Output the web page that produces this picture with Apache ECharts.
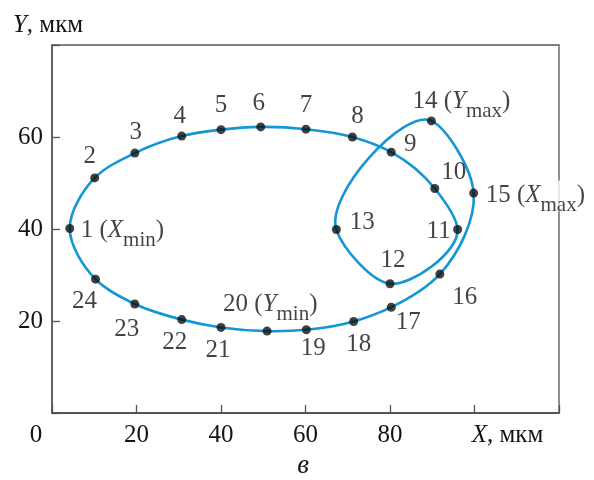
<!DOCTYPE html>
<html>
<head>
<meta charset="utf-8">
<script src="https://cdn.jsdelivr.net/npm/echarts@6/dist/echarts.min.js"></script>
<style>
  html, body { margin: 0; padding: 0; background: #fff; }
  #chart { width: 594px; height: 480px; }
</style>
</head>
<body>
<div id="chart"></div>
<script>
// Trajectory points 1..24 (X, Y in мкм), in path order
const pointIds = [1, 2, 3, 4, 5, 6, 7, 8, 9, 10, 11, 12, 13, 14, 15, 16, 17, 18, 19, 20, 21, 22, 23, 24];
const xs = [4.2, 10.1, 19.6, 30.7, 40.0, 49.4, 60.1, 71.1, 80.3, 90.6, 96.0, 80.0,
            67.3, 89.8, 99.8, 91.8, 80.3, 71.4, 60.2, 50.9, 40.0, 30.7, 19.6, 10.3];
const ys = [40.1, 51.1, 56.5, 60.2, 61.6, 62.2, 61.7, 60.0, 56.7, 48.8, 39.9, 28.1,
            39.9, 63.5, 47.8, 30.2, 23.0, 19.9, 18.1, 17.8, 18.6, 20.3, 23.7, 29.1];
// Extreme points: [variable, subscript]
const extremes = { 1: ['X', 'min'], 14: ['Y', 'max'], 15: ['X', 'max'], 20: ['Y', 'min'] };

const xTickLabels = [0, 20, 40, 60, 80];
const yTickLabels = [20, 40, 60];
const xAxisTitle = ['X', ', мкм'];
const yAxisTitle = ['Y', ', мкм'];
const caption = 'в';

// Label placement around each dot: [align, dx, dy]
const labelPlace = {
  1: ['left', 11, 0], 2: ['center', -5, -21], 3: ['center', 1, -20], 4: ['center', -2, -19],
  5: ['center', 0, -23], 6: ['center', -2, -22], 7: ['center', 0, -23], 8: ['center', 5, -20],
  9: ['center', 19, -7], 10: ['center', 19, -15], 11: ['center', -19, 3], 12: ['center', 3, -22],
  13: ['center', 26, -6], 14: ['left', -19, -21], 15: ['left', 12, 0], 16: ['center', 25, 24],
  17: ['center', 17, 16], 18: ['center', 5, 24], 19: ['center', 7, 20], 20: ['left', -44, -29],
  21: ['center', -3, 24], 22: ['center', -7, 24], 23: ['center', -8, 26], 24: ['center', -11, 23]
};

const FONT = "'Liberation Serif', 'DejaVu Serif', 'Times New Roman', serif";
const FS = 25;
const INK = '#161314';
const FRAME = '#555';
const CURVE = '#1396d6';

const rich = {
  n: { fontSize: FS, fontFamily: FONT, color: INK, lineHeight: 27, verticalAlign: 'top' },
  i: { fontSize: FS, fontFamily: FONT, color: INK, fontStyle: 'italic', lineHeight: 27, verticalAlign: 'top' },
  s: { fontSize: 21, fontFamily: FONT, color: INK, lineHeight: 21, verticalAlign: 'top', padding: [12, 0, 0, 0] }
};

const pointData = pointIds.map((id, k) => {
  const place = labelPlace[id];
  const ext = extremes[id];
  const text = ext
    ? '{n|' + id + ' (}{i|' + ext[0] + '}{s|' + ext[1] + '}{n|)}'
    : '{n|' + id + '}';
  const label = {
    show: true,
    position: 'inside',
    align: place[0],
    verticalAlign: 'middle',
    offset: [place[1], place[2] + (ext ? 3 : 0)],
    formatter: text,
    rich: rich
  };
  if (id === 15) {
    label.backgroundColor = '#fff';
    label.padding = [2, 0, 2, 0];
  }
  return { value: [xs[k], ys[k]], label: label };
});

// Closed C1 cubic through the projected points; tangents from a
// three-point parabola fit over chord lengths (Bessel tangents).
function closedCurve(pts) {
  const n = pts.length;
  const dist = (a, b) => Math.hypot(b[0] - a[0], b[1] - a[1]);
  const tan = pts.map((p, k) => {
    const a = pts[(k - 1 + n) % n], b = pts[(k + 1) % n];
    const d0 = dist(a, p), d1 = dist(p, b);
    const w0 = d1 / (d0 * (d0 + d1)), w1 = d0 / (d1 * (d0 + d1));
    return [w0 * (p[0] - a[0]) + w1 * (b[0] - p[0]), w0 * (p[1] - a[1]) + w1 * (b[1] - p[1])];
  });
  const segs = [];
  for (let k = 0; k < n; k++) {
    const p = pts[k], q = pts[(k + 1) % n];
    const t0 = tan[k], t1 = tan[(k + 1) % n];
    const h = dist(p, q) / 3;
    segs.push({
      type: 'bezierCurve',
      shape: {
        x1: p[0], y1: p[1], x2: q[0], y2: q[1],
        cpx1: p[0] + t0[0] * h, cpy1: p[1] + t0[1] * h,
        cpx2: q[0] - t1[0] * h, cpy2: q[1] - t1[1] * h
      },
      style: { fill: null, stroke: CURVE, lineWidth: 2.6, lineCap: 'round' }
    });
  }
  return segs;
}

const chart = echarts.init(document.getElementById('chart'));

chart.setOption({
  animation: false,
  backgroundColor: '#fff',
  grid: {
    left: 52, right: 35, top: 45, bottom: 67,
    show: true, borderColor: FRAME, borderWidth: 1.3, backgroundColor: 'transparent'
  },
  xAxis: {
    type: 'value', min: 0, max: 120, interval: 20,
    axisLine: { show: true, lineStyle: { color: FRAME, width: 1.8 } },
    axisTick: { show: true, inside: true, length: 8, lineStyle: { color: FRAME, width: 1.3 } },
    splitLine: { show: false },
    axisLabel: {
      margin: 10,
      fontSize: FS, fontFamily: FONT, color: INK,
      formatter: function (v) {
        if (v === 100) return '{ti|' + xAxisTitle[0] + '}{tn|' + xAxisTitle[1] + '}';
        if (v === 0) return '{z|' + xTickLabels[0] + '}';
        return xTickLabels.indexOf(v) >= 0 ? String(v) : '';
      },
      rich: {
        z: { fontSize: FS, fontFamily: FONT, color: INK, padding: [0, 32, 0, 0] },
        ti: { fontSize: FS, fontFamily: FONT, color: INK, fontStyle: 'italic', padding: [0, 0, 0, 66] },
        tn: { fontSize: FS, fontFamily: FONT, color: INK }
      }
    }
  },
  yAxis: {
    type: 'value', min: 0, max: 80, interval: 20,
    name: '{i|' + yAxisTitle[0] + '}{n|' + yAxisTitle[1] + '}',
    nameLocation: 'end',
    nameGap: 20,
    nameTextStyle: {
      align: 'center', verticalAlign: 'middle', padding: [0, 8, 0, 0],
      rich: {
        i: { fontSize: FS, fontFamily: FONT, color: INK, fontStyle: 'italic' },
        n: { fontSize: FS, fontFamily: FONT, color: INK }
      }
    },
    axisLine: { show: true, lineStyle: { color: FRAME, width: 1.5 } },
    axisTick: { show: true, inside: true, length: 8, lineStyle: { color: FRAME, width: 1.3 } },
    splitLine: { show: false },
    axisLabel: {
      margin: 9,
      fontSize: FS, fontFamily: FONT, color: INK,
      formatter: function (v) { return yTickLabels.indexOf(v) >= 0 ? String(v) : ''; }
    }
  },
  graphic: [{
    type: 'text', x: 303, y: 466,
    style: { text: caption, fontSize: 27, fontStyle: 'italic', fontFamily: FONT, fill: INK,
             align: 'center', verticalAlign: 'middle' }
  }],
  series: [
    {
      // closed smooth trajectory through all points
      type: 'custom',
      coordinateSystem: 'cartesian2d',
      data: [[xs[0], ys[0]]],
      encode: { x: 0, y: 1 },
      silent: true,
      z: 2,
      renderItem: function (params, api) {
        if (params.dataIndex !== 0) return null;
        const pts = xs.map((x, k) => api.coord([x, ys[k]]));
        return { type: 'group', children: closedCurve(pts) };
      }
    },
    {
      type: 'scatter',
      symbol: 'circle',
      symbolSize: 9,
      itemStyle: { color: '#111' },
      z: 3,
      data: pointData
    }
  ]
});
</script>
</body>
</html>
